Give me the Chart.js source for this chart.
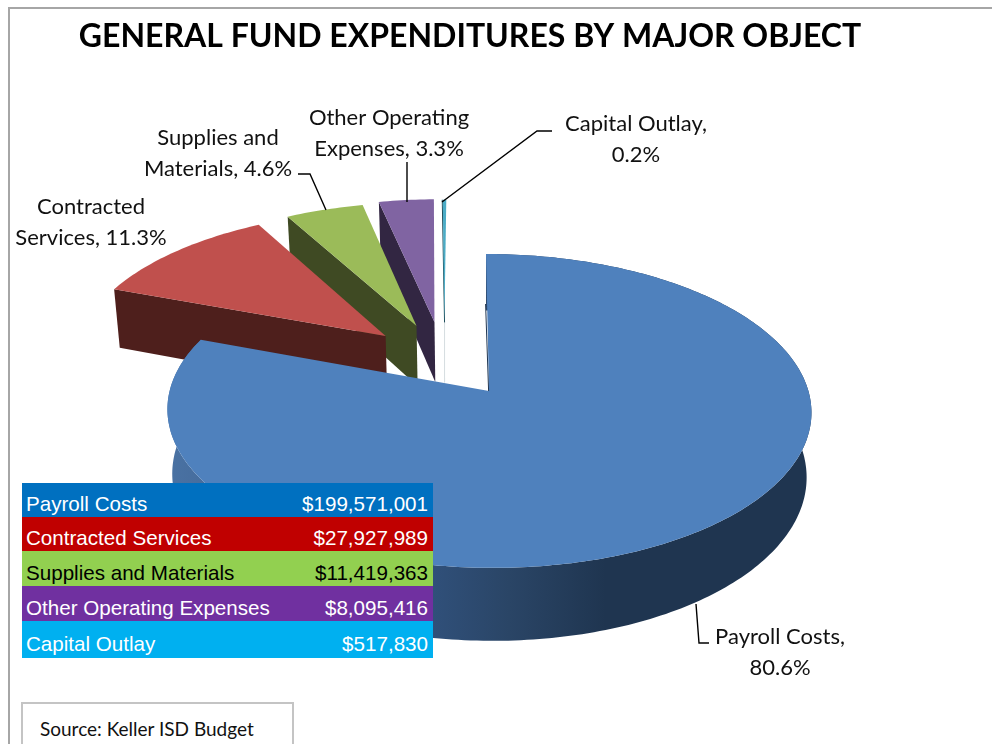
<!DOCTYPE html>
<html>
<head>
<meta charset="utf-8">
<script src="https://cdn.jsdelivr.net/npm/chart.js@4"></script>
<style>
html,body{margin:0;padding:0;background:#fff;width:992px;height:744px;overflow:hidden}
#frame{position:absolute;left:8px;top:7px;width:984px;height:737px;border-left:2px solid #a6a6a6;border-top:2px solid #a6a6a6;box-sizing:border-box}
#c{position:absolute;left:0;top:0}
#tbl{position:absolute;left:22px;top:483px;width:411px;font:20.6px "Liberation Sans",Arial,sans-serif}
#tbl div{display:flex;justify-content:space-between;align-items:center;padding:8px 5px 0 4px;box-sizing:border-box}
#src{position:absolute;left:21px;top:702px;width:273px;height:60px;border:2px solid #c4c4c4;box-sizing:border-box;background:#fff;font:19px Lato,sans-serif;color:#111;padding:13px 0 0 17px}
</style>
</head>
<body>
<div id="frame"></div>
<canvas id="c" width="940" height="744"></canvas>
<div id="tbl"></div>
<div id="src">Source: Keller ISD Budget</div>
<script>
const chartTitle = 'GENERAL FUND EXPENDITURES BY MAJOR OBJECT';
const categories = ['Payroll Costs','Contracted Services','Supplies and Materials','Other Operating Expenses','Capital Outlay'];
const amounts = [199571001, 27927989, 11419363, 8095416, 517830];
const amountLabels = ['$199,571,001','$27,927,989','$11,419,363','$8,095,416','$517,830'];
const labelHead = ['Payroll Costs,','Contracted','Supplies and','Other Operating','Capital Outlay,'];
const labelTail = ['','Services, ','Materials, ','Expenses, ',''];
const topColors = ['#4f81bd','#c0504d','#9bbb59','#8064a2','#4bacc6'];
const sideColors = ['#1f3550','#4e1f1c','#3f4a23','#322642','#1d4a57'];
const rowColors = ['#0070c0','#c00000','#92d050','#7030a0','#00b0f0'];
const rowText = ['#fff','#fff','#000','#fff','#fff'];
const rowHeights = [34,34,35,35,37];

// Oblique view of the pie plane
const cx=489, cy=391, R=319.4, S=-3.4, B=154.4, K=0.127, D=63.7, SHRINK=0.985;
const explode=[[0,0],[-.335,.373],[-.235,.445],[-.176,.474],[-.143,.47]];
const labelPos=[[780,637],[91,207],[218,138],[389,118],[636,124]];
const leaders=[[[696,604],[699,643],[709,643]],null,[[298,174],[310,174],[326,210]],[[407,162],[407,202]],[[442,202],[537,131],[552,131]]];

function project(u,v,low){
  const w=1+K*v;
  let x=cx+(R*u+S*v)/w, y=cy-B*v/w;
  if(low){ y+=D/w; x=cx+(x-cx)*SHRINK; }
  return [x,y];
}
function rim(el,i,low,rev){
  const pts=[], n=Math.max(2,Math.ceil((el.endAngle-el.startAngle)/(Math.PI/180)));
  for(let j=0;j<=n;j++){
    const a=el.startAngle+(el.endAngle-el.startAngle)*(rev?n-j:j)/n;
    pts.push(project(explode[i][0]+Math.cos(a),explode[i][1]-Math.sin(a),low));
  }
  return pts;
}
function poly(ctx,pts,fill){
  ctx.beginPath(); pts.forEach((p,j)=>j?ctx.lineTo(p[0],p[1]):ctx.moveTo(p[0],p[1])); ctx.closePath();
  ctx.fillStyle=fill; ctx.fill();
}
const pie3d={
  id:'pie3d',
  beforeDatasetsDraw(chart){
    const ctx=chart.ctx, arcs=chart.getDatasetMeta(0).data, total=amounts.reduce((a,b)=>a+b,0);
    ctx.save();
    [4,3,2,1,0].forEach(i=>{
      const el=arcs[i], apex=explode[i];
      const a0=el.startAngle;
      const o=[apex[0]+Math.cos(a0),apex[1]-Math.sin(a0)];
      if(i===0){
        const g=ctx.createLinearGradient(168,0,812,0);
        g.addColorStop(0,'#4a72a3'); g.addColorStop(.2,'#3d6190'); g.addColorStop(.41,'#30507a');
        g.addColorStop(.53,'#2a4566'); g.addColorStop(.68,'#1f3550'); g.addColorStop(1,'#1f3550');
        poly(ctx,rim(el,i,false,false).concat(rim(el,i,true,true)),g);
      } else {
        poly(ctx,[project(o[0],o[1]),project(apex[0],apex[1]),project(apex[0],apex[1],true),project(o[0],o[1],true)],sideColors[i]);
      }
      if(i===4){
        const t=project(o[0],o[1]), b=project(apex[0],apex[1],true);
        ctx.strokeStyle=sideColors[4]; ctx.lineWidth=1; ctx.beginPath(); ctx.moveTo(t[0]-.5,t[1]); ctx.lineTo(b[0]-.5,b[1]-60); ctx.stroke();
        ctx.strokeStyle='#d5dde0'; ctx.beginPath(); ctx.moveTo(b[0]-.5,b[1]-60); ctx.lineTo(b[0]-.5,b[1]); ctx.stroke();
      }
      const cen=project(apex[0],apex[1]);
      poly(ctx,[cen].concat(rim(el,i,false,false)),topColors[i]);
      if(i===0){
        const t=project(o[0],o[1]);
        ctx.strokeStyle=sideColors[0]; ctx.lineWidth=1; ctx.beginPath();
        ctx.moveTo(t[0]-.4,t[1]+50); ctx.lineTo(cen[0]-.4,cen[1]); ctx.stroke();
      }
    });
    ctx.strokeStyle='#000'; ctx.lineWidth=1.4;
    leaders.forEach(l=>{ if(!l) return; ctx.beginPath(); l.forEach((p,j)=>j?ctx.lineTo(p[0],p[1]):ctx.moveTo(p[0],p[1])); ctx.stroke(); });
    ctx.fillStyle='#111'; ctx.font='22px Lato, sans-serif'; ctx.textAlign='center'; ctx.textBaseline='middle';
    categories.forEach((c,i)=>{
      const pct=(amounts[i]/total*100).toFixed(1)+'%';
      const second=(labelTail[i]||'')+pct;
      ctx.fillText(labelHead[i],labelPos[i][0],labelPos[i][1]);
      ctx.fillText(second,labelPos[i][0],labelPos[i][1]+31);
    });
    ctx.restore();
    return false;
  }
};
new Chart(document.getElementById('c'),{
  type:'pie',
  data:{labels:categories,datasets:[{data:amounts,backgroundColor:topColors,borderWidth:0}]},
  options:{
    responsive:false,animation:false,
    layout:{padding:0},
    plugins:{
      legend:{display:false},tooltip:{enabled:false},
      title:{display:true,text:chartTitle,color:'#000',align:'center',font:{family:'Lato, sans-serif',size:32,weight:'bold'},padding:{top:17,bottom:10}}
    }
  },
  plugins:[pie3d]
});
const tbl=document.getElementById('tbl');
categories.forEach((c,i)=>{
  const r=document.createElement('div');
  r.style.height=rowHeights[i]+'px'; r.style.background=rowColors[i]; r.style.color=rowText[i];
  const a=document.createElement('span'); a.textContent=c;
  const b=document.createElement('span'); b.textContent=amountLabels[i];
  r.append(a,b); tbl.appendChild(r);
});
</script>
</body>
</html>
